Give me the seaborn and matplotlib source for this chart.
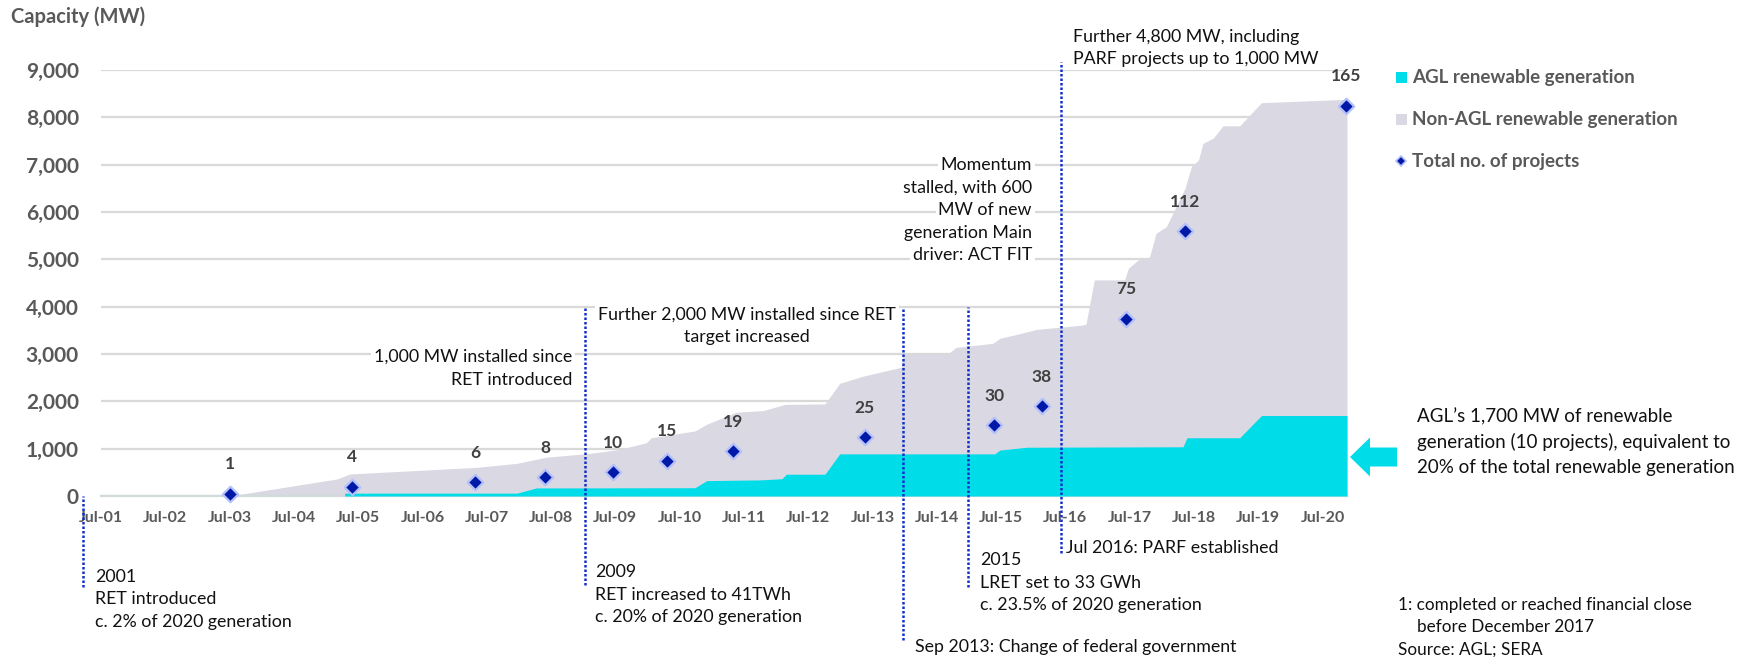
import matplotlib
matplotlib.use("Agg")
import matplotlib.pyplot as plt
import seaborn as sns
from matplotlib.patches import FancyArrow, Rectangle
from matplotlib.lines import Line2D

# total renewable capacity (top of grey area), decimal year vs MW
total_year = [2003.5, 2005.17, 2005.37, 2007.34, 2007.97, 2008.43, 2009.1, 2009.57,
              2009.98, 2010.06, 2010.74, 2010.92, 2011.38, 2011.8, 2012.14, 2012.76,
              2012.99, 2013.36, 2013.95, 2013.97, 2014.67, 2014.8, 2015.37, 2015.48,
              2015.7, 2016.05, 2016.73, 2016.82, 2016.95, 2017.42, 2017.48, 2017.63,
              2017.81, 2017.91, 2018.07, 2018.36, 2018.46, 2018.57, 2018.64, 2018.8,
              2018.95, 2019.21, 2019.55, 2020.88]
total_mw = [0, 360, 465, 605, 690, 820, 900, 985,
            1125, 1230, 1375, 1515, 1770, 1805, 1935, 1945,
            2380, 2535, 2720, 3000, 3000, 3140, 3225, 3330,
            3400, 3520, 3605, 3630, 4565, 4565, 4810, 4985,
            5055, 5550, 5690, 6500, 6960, 7100, 7450, 7560,
            7820, 7820, 8310, 8380]

# AGL renewable capacity (cyan area)
agl_year = [2005.29, 2007.97, 2008.27, 2010.74, 2010.92, 2011.75, 2012.09, 2012.16,
            2012.76, 2012.99, 2015.4, 2015.48, 2015.9, 2018.33, 2018.39, 2019.21,
            2019.55, 2020.88]
agl_mw = [60, 60, 170, 175, 325, 340, 365, 460,
          460, 890, 890, 970, 1030, 1040, 1230, 1230,
          1700, 1700]

# total number of projects
project_year = [2003.51, 2005.41, 2007.32, 2008.41, 2009.47, 2010.31, 2011.33,
                2013.38, 2015.39, 2016.13, 2017.44, 2018.36, 2020.86]
project_count = [1, 4, 6, 8, 10, 15, 19, 25, 30, 38, 75, 112, 165]

xtick_vals = [2001.5, 2002.5, 2003.5, 2004.5, 2005.5, 2006.5, 2007.5, 2008.5, 2009.5,
              2010.5, 2011.5, 2012.5, 2013.5, 2014.5, 2015.5, 2016.5, 2017.5, 2018.5,
              2019.5, 2020.5]
xtick_labels = ["Jul-01", "Jul-02", "Jul-03", "Jul-04", "Jul-05", "Jul-06", "Jul-07",
                "Jul-08", "Jul-09", "Jul-10", "Jul-11", "Jul-12", "Jul-13", "Jul-14",
                "Jul-15", "Jul-16", "Jul-17", "Jul-18", "Jul-19", "Jul-20"]
ytick_vals = [0, 1000, 2000, 3000, 4000, 5000, 6000, 7000, 8000, 9000]
ytick_labels = ["0", "1,000", "2,000", "3,000", "4,000", "5,000", "6,000", "7,000",
                "8,000", "9,000"]

# policy milestones (dotted lines)
event_year = [2001.22, 2009.03, 2013.97, 2014.98, 2016.43]
event_top = [0, 3990, 3990, 3990, 9170]
event_bottom = [-1920, -1880, -3040, -1920, -1200]

CYAN = "#00dce8"
GREY = "#dad8e2"
BLUE = "#0018a8"
HALO = "#b4c0fa"
DOT = "#1430c8"
LABEL = "#595959"

sns.set_style("white")
plt.rcParams["font.family"] = ["Lato", "DejaVu Sans"]

W, H = 1765, 657


def fx(x):
    return x / W


def fy(y):
    return 1 - y / H


fig = plt.figure(figsize=(W / 100, H / 100), dpi=100)
ax = fig.add_axes([fx(101), (H - 496) / H, (1347 - 101) / W, (496 - 70) / H])

ax.fill_between(total_year, 0, total_mw, color=GREY, lw=0, zorder=2)
ax.fill_between(agl_year, 0, agl_mw, color=CYAN, lw=0, zorder=3)

ax.set_xlim(2001.5, 2020.88)
ax.set_ylim(0, 9000)
ax.set_xticks(xtick_vals)
ax.set_xticklabels(xtick_labels)
ax.set_yticks(ytick_vals)
ax.set_yticklabels(ytick_labels)
ax.grid(axis="y", color="#d9d9d9", lw=1.6)
ax.grid(axis="x", visible=False)
ax.set_axisbelow(True)
for s in ["top", "right", "left"]:
    ax.spines[s].set_visible(False)
ax.spines["bottom"].set_color("#d3dadc")
ax.spines["bottom"].set_linewidth(1.6)
ax.tick_params(axis="y", length=0, pad=16, labelsize=15, labelcolor=LABEL)
ax.tick_params(axis="x", length=4, width=1.2, color="#d9d9d9", pad=7,
               labelsize=11.5, labelcolor=LABEL)
for lab in ax.get_xticklabels() + ax.get_yticklabels():
    lab.set_fontweight("bold")

ax.vlines(event_year, event_bottom, event_top, colors=DOT, lw=1.8,
          linestyles=(0, (1, 0.8)), clip_on=False, zorder=7)

# projects on a secondary scale
ax2 = ax.twinx()
ax2.set_ylim(0, 180)
ax2.axis("off")
sns.scatterplot(x=project_year, y=project_count, ax=ax2, marker="D", s=62,
                color=BLUE, edgecolor=HALO, linewidth=1.6, zorder=6,
                clip_on=False, legend=False)
for yr, n in zip(project_year, project_count):
    ax2.annotate(str(n), (yr, n), xytext=(0, 21), textcoords="offset points",
                 ha="center", va="center", fontsize=12.5, fontweight="bold",
                 color="#404040", annotation_clip=False)

fig.text(fx(11), fy(17), "Capacity (MW)", fontsize=14.5, fontweight="bold",
         color=LABEL, ha="left", va="center")

# legend
fig.add_artist(Rectangle((fx(1396), fy(83)), 11 / W, 11 / H,
                         transform=fig.transFigure, color=CYAN, lw=0))
fig.add_artist(Rectangle((fx(1396), fy(125)), 11 / W, 11 / H,
                         transform=fig.transFigure, color=GREY, lw=0))
fig.add_artist(Line2D([fx(1401)], [fy(161)], marker="D", ms=5, mfc=BLUE, mec=HALO,
                      mew=1.2, transform=fig.transFigure))
for txt, yy in [("AGL renewable generation", 77),
                ("Non-AGL renewable generation", 119),
                ("Total no. of projects", 161)]:
    fig.text(fx(1412), fy(yy), txt, fontsize=13.5, fontweight="bold", color=LABEL,
             ha="left", va="center")

white = dict(fc="white", ec="none", pad=2)
note_fs = 12.8


def lines(x, ys, texts, ha="left", bbox=None):
    for yy, t in zip(ys, texts):
        fig.text(fx(x), fy(yy), t, fontsize=note_fs, color="#111111", ha=ha,
                 va="center", bbox=bbox)


lines(95, [577, 599, 622], ["2001", "RET introduced", "c. 2% of 2020 generation"])
lines(595, [572, 595, 617], ["2009", "RET increased to 41TWh", "c. 20% of 2020 generation"])
lines(980, [560, 583, 605], ["2015", "LRET set to 33 GWh", "c. 23.5% of 2020 generation"])
lines(1066, [548], ["Jul 2016: PARF established"])
lines(915, [647], ["Sep 2013: Change of federal government"])

lines(572, [357, 380], ["1,000 MW installed since", "RET introduced"], ha="right", bbox=white)
lines(747, [315, 337], ["Further 2,000 MW installed since RET", "target increased"],
      ha="center", bbox=white)
lines(1032, [165, 188, 210, 233, 255],
      ["Momentum", "stalled, with 600", "MW of new", "generation Main", "driver: ACT FIT"],
      ha="right", bbox=white)
lines(1073, [37, 59], ["Further 4,800 MW, including", "PARF projects up to 1,000 MW"],
      bbox=white)

# AGL share callout
fig.add_artist(FancyArrow(fx(1397), fy(457), fx(1350) - fx(1397), 0, width=19 / H,
                          head_width=39 / H, head_length=20 / W,
                          length_includes_head=True, transform=fig.transFigure,
                          color=CYAN, lw=0))
for yy, t in [(417, "AGL\u2019s 1,700 MW of renewable"),
              (442, "generation (10 projects), equivalent to"),
              (467, "20% of the total renewable generation")]:
    fig.text(fx(1417), fy(yy), t, fontsize=13.5, color="#111111", ha="left", va="center")

for xx, yy, t in [(1398, 605, "1: completed or reached financial close"),
                  (1417, 627, "before December 2017"),
                  (1398, 650, "Source: AGL; SERA")]:
    fig.text(fx(xx), fy(yy), t, fontsize=12.3, color="#111111", ha="left", va="center")

fig.savefig("out.png", dpi=100)
